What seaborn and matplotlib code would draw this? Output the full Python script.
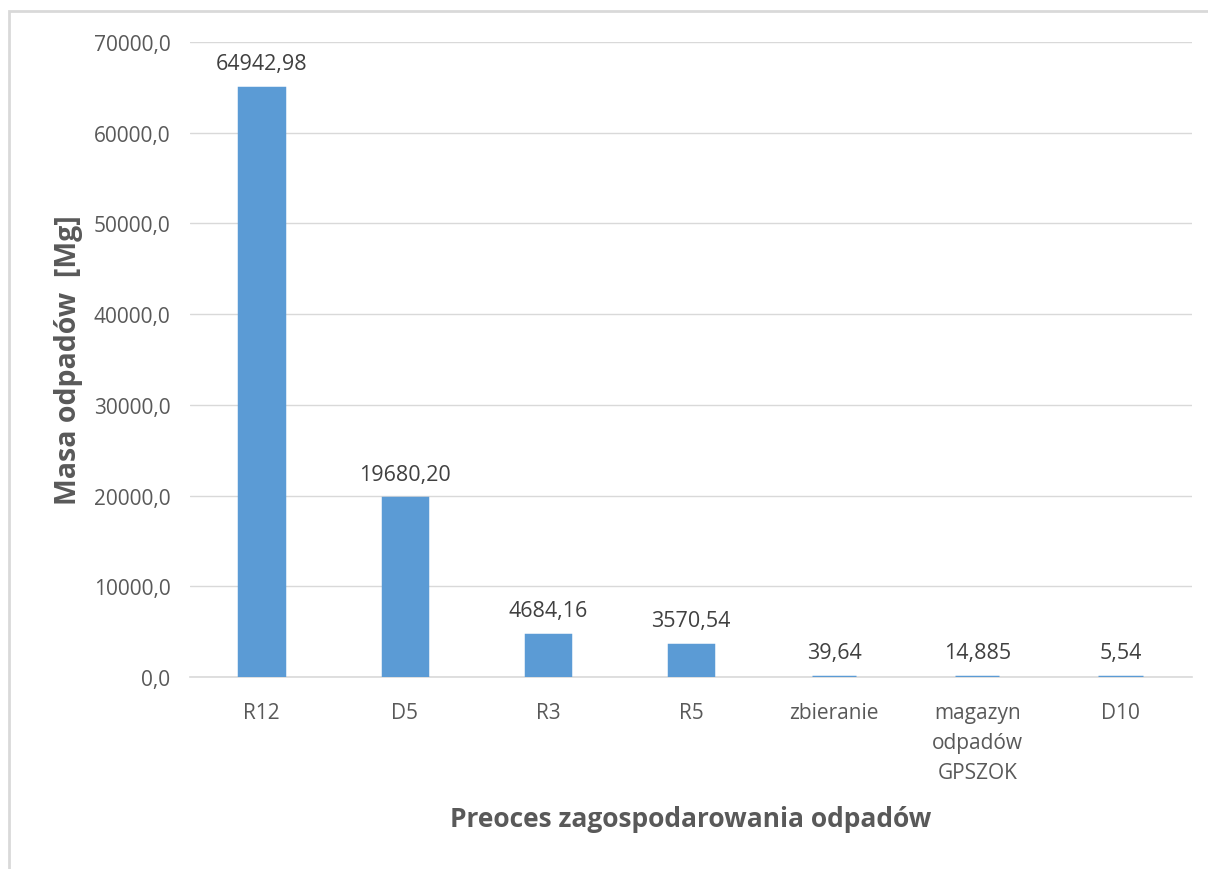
import matplotlib
matplotlib.use("Agg")
import matplotlib.pyplot as plt
import matplotlib.patches as mpatches
import seaborn as sns
import pandas as pd

# dane z wykresu
procesy = ["R12", "D5", "R3", "R5", "zbieranie", "magazyn\nodpadów\nGPSZOK", "D10"]
masa = [64942.98, 19680.20, 4684.16, 3570.54, 39.64, 14.885, 5.54]
etykiety = ["64942,98", "19680,20", "4684,16", "3570,54", "39,64", "14,885", "5,54"]
y_ticks = [0, 10000, 20000, 30000, 40000, 50000, 60000, 70000]

df = pd.DataFrame({"proces": procesy, "masa": masa})

sns.set_theme(style="white")
plt.rcParams['font.family'] = ['Open Sans', 'DejaVu Sans']

fig = plt.figure(figsize=(12.08, 8.70), dpi=100)
ax = fig.add_axes([190 / 1208, 1 - 678 / 870, 1002 / 1208, (678 - 43) / 870])

niebieski = "#5B9BD5"
sns.barplot(data=df, x="proces", y="masa", color=niebieski, width=0.31,
            edgecolor=niebieski, linewidth=2.5, saturation=1, ax=ax, zorder=3)

ax.set_ylim(0, 70000)
ax.set_xlim(-0.5, len(procesy) - 0.5)
ax.set_yticks(y_ticks)
ax.set_yticklabels([f"{v:.1f}".replace(".", ",") for v in y_ticks])
ax.yaxis.grid(True, color="#D9D9D9", linewidth=1)
ax.set_axisbelow(True)
for s in ["top", "right", "left"]:
    ax.spines[s].set_visible(False)
ax.spines["bottom"].set_color("#D9D9D9")
ax.spines["bottom"].set_linewidth(1.2)
ax.spines["bottom"].set_zorder(2)

ax.tick_params(axis="both", length=0, labelsize=15, labelcolor="#595959")
ax.tick_params(axis="y", pad=14)
ax.tick_params(axis="x", pad=18)
for lab in ax.get_xticklabels():
    lab.set_linespacing(1.55)

for i, (v, t) in enumerate(zip(masa, etykiety)):
    ax.annotate(t, (i, v), xytext=(0, 10), textcoords="offset points",
                ha="center", va="bottom", fontsize=15.5, color="#404040")

ax.set_xlabel("Preoces zagospodarowania odpadów", fontsize=19, fontweight="bold",
              color="#595959", labelpad=16)
ax.set_ylabel("Masa odpadów  [Mg]", fontsize=20.5, fontweight="bold",
              color="#595959", labelpad=8)

# ramka wykresu
ramka = mpatches.Rectangle((9 / 1208, -0.1), 1.2, 1 - 12 / 870 + 0.1,
                           transform=fig.transFigure, fill=False,
                           edgecolor="#D9D9D9", linewidth=2)
fig.patches.append(ramka)

fig.savefig("out.png", dpi=100)
